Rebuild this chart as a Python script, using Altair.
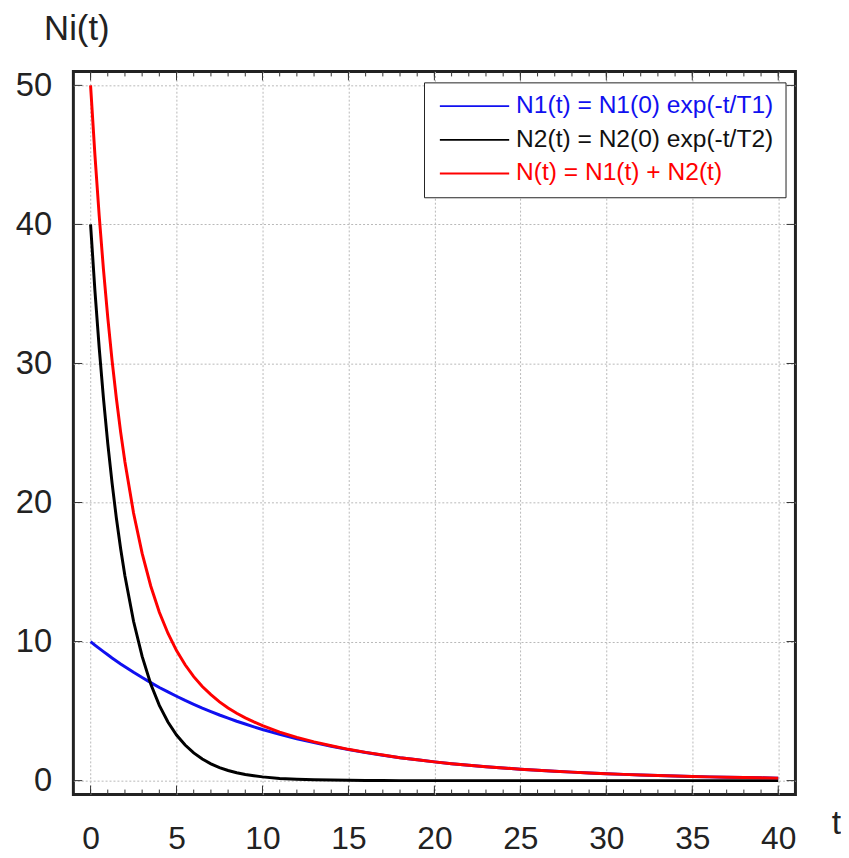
import altair as alt
import pandas as pd

# time samples (t) and values
t_vals = [0, 0.25, 0.5, 0.75, 1, 1.25, 1.5, 1.75, 2, 2.5, 3, 3.5, 4, 4.5, 5, 5.5, 6, 6.5, 7, 7.5,
          8, 8.5, 9, 9.5, 10, 11, 12, 13, 14, 15, 16, 17, 18, 19, 20, 21, 22, 23, 24, 25,
          26, 27, 28, 29, 30, 31, 32, 33, 34, 35, 36, 37, 38, 39, 40]
n1_vals = [10.0, 9.75, 9.51, 9.28, 9.05, 8.82, 8.61, 8.39, 8.19, 7.79, 7.41, 7.05, 6.70, 6.38, 6.07, 5.77, 5.49, 5.22, 4.97, 4.72,
           4.49, 4.27, 4.07, 3.87, 3.68, 3.33, 3.01, 2.73, 2.47, 2.23, 2.02, 1.83, 1.65, 1.50, 1.35, 1.22, 1.11, 1.00, 0.91, 0.82,
           0.74, 0.67, 0.61, 0.55, 0.50, 0.45, 0.41, 0.37, 0.33, 0.30, 0.27, 0.25, 0.22, 0.20, 0.18]
n2_vals = [40.0, 35.30, 31.15, 27.49, 24.26, 21.41, 18.89, 16.67, 14.72, 11.46, 8.93, 6.95, 5.41, 4.22, 3.28, 2.56, 1.99, 1.55, 1.21, 0.94,
           0.73, 0.57, 0.44, 0.35, 0.27, 0.16, 0.10, 0.06, 0.04, 0.02, 0.01, 0.01, 0.0, 0.0, 0.0, 0.0, 0.0, 0.0, 0.0, 0.0,
           0.0, 0.0, 0.0, 0.0, 0.0, 0.0, 0.0, 0.0, 0.0, 0.0, 0.0, 0.0, 0.0, 0.0, 0.0]

series_names = ["N1(t) = N1(0) exp(-t/T1)", "N2(t) = N2(0) exp(-t/T2)", "N(t) = N1(t) + N2(t)"]
series_colors = ["#1010f0", "#000000", "#ff0000"]

x_major = [0, 5, 10, 15, 20, 25, 30, 35, 40]
x_minor = list(range(0, 41))
y_major = [0, 10, 20, 30, 40, 50]

W, H = 729, 730
FONT = "Liberation Sans"

n_vals = [a + b for a, b in zip(n1_vals, n2_vals)]
frames = []
for name, vals in zip(series_names, [n1_vals, n2_vals, n_vals]):
    frames.append(pd.DataFrame({"t": t_vals, "v": vals, "series": name}))

color_scale = alt.Scale(domain=series_names, range=series_colors)

label_color_expr = (
    "datum.value == '" + series_names[0] + "' ? '" + series_colors[0] + "' : "
    "datum.value == '" + series_names[2] + "' ? '" + series_colors[2] + "' : '#111'"
)

x_axis = alt.Axis(values=x_major, grid=True, gridDash=[2, 2], gridColor="#b8b8b8", gridWidth=1,
                  ticks=False, domain=False, labelFontSize=32, labelPadding=29, labelFont=FONT,
                  labelColor="#222", labelFlush=False, labelOverlap=False, format="d",
                  title="t", titleFont=FONT, titleFontSize=34, titleFontWeight="normal",
                  titleColor="#222", titleAngle=0, titleX=770, titleY=29,
                  titleAlign="center", titleBaseline="middle")
y_axis = alt.Axis(values=y_major, grid=True, gridDash=[2, 2], gridColor="#b8b8b8", gridWidth=1,
                  ticks=False, domain=False, labelFontSize=33, labelPadding=22, labelFont=FONT,
                  labelColor="#222", labelFlush=False, labelOverlap=False, format="d",
                  title="Ni(t)", titleFont=FONT, titleFontSize=35, titleFontWeight="normal",
                  titleColor="#222", titleAngle=0, titleX=3, titleY=-43,
                  titleAlign="center", titleBaseline="middle")

xs = alt.Scale(domain=[-1, 41], nice=False, zero=False)
ys = alt.Scale(domain=[-1, 51], nice=False, zero=False)

legend = alt.Legend(title=None, orient="none", legendX=354, legendY=11,
                    fillColor="white", strokeColor="#222", padding=12, rowPadding=9,
                    clipHeight=24,
                    symbolType="stroke", symbolSize=4900, symbolStrokeWidth=1.8, symbolOffset=3,
                    labelFont=FONT, labelFontSize=24.8, labelColor={"expr": label_color_expr},
                    labelLimit=400, labelOffset=6)

X = lambda f: alt.X(f, scale=xs, axis=x_axis)
Y = lambda f: alt.Y(f, scale=ys, axis=y_axis)

layers = []
for i, df in enumerate(frames):
    layers.append(
        alt.Chart(df).mark_line(strokeWidth=3, clip=True).encode(
            x=X("t:Q"),
            y=Y("v:Q"),
            color=alt.Color("series:N", scale=color_scale, legend=legend),
            order=alt.Order("t:Q"),
        )
    )

minor_df = pd.DataFrame({"t": x_minor})
major_df = pd.DataFrame({"t": x_major})
ymaj_df = pd.DataFrame({"v": y_major})

tick_style = dict(color="#333", strokeWidth=1)
ticks = [
    alt.Chart(minor_df).mark_rule(**tick_style).encode(x=X("t:Q"), y=alt.value(H), y2=alt.value(H - 5)),
    alt.Chart(minor_df).mark_rule(**tick_style).encode(x=X("t:Q"), y=alt.value(0), y2=alt.value(5)),
    alt.Chart(major_df).mark_rule(**tick_style).encode(x=X("t:Q"), y=alt.value(H), y2=alt.value(H - 9)),
    alt.Chart(major_df).mark_rule(**tick_style).encode(x=X("t:Q"), y=alt.value(0), y2=alt.value(9)),
    alt.Chart(ymaj_df).mark_rule(**tick_style).encode(y=Y("v:Q"), x=alt.value(0), x2=alt.value(9)),
    alt.Chart(ymaj_df).mark_rule(**tick_style).encode(y=Y("v:Q"), x=alt.value(W), x2=alt.value(W - 9)),
]

chart = alt.layer(*ticks, *layers).properties(
    width=W, height=H,
    background="white",
    autosize=alt.AutoSizeParams(type="none"),
    padding={"left": 66, "top": 60, "right": 46, "bottom": 60},
).configure_view(stroke="#222", strokeWidth=3)

chart.save("out.html", embed_options={"renderer": "svg", "actions": False})
